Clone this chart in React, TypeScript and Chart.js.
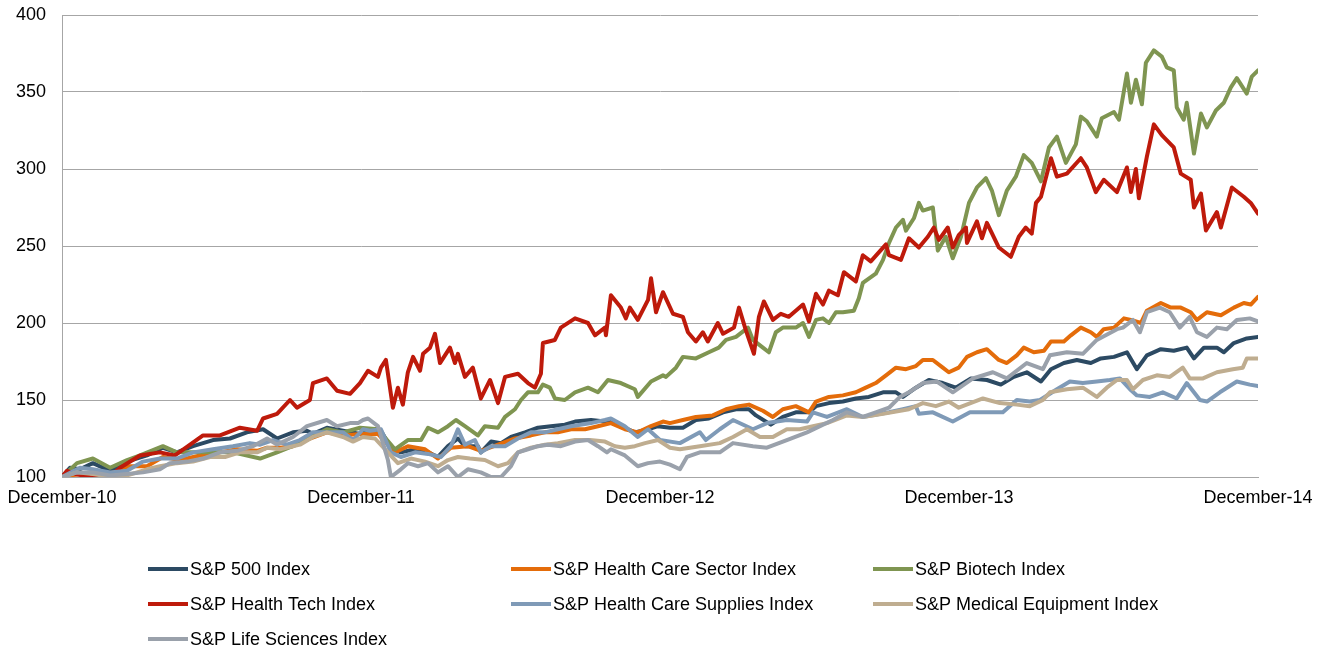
import React, { useEffect, useRef } from "react";
import { Chart, registerables } from "chart.js";

Chart.register(...registerables);

// x = months since December 2010, y = index value (Dec-10 = 100)
const tickLabels = ["December-10", "December-11", "December-12", "December-13", "December-14"];

const seriesNames = [
  "S&P 500 Index",
  "S&P Health Care Sector Index",
  "S&P Biotech Index",
  "S&P Health Tech Index",
  "S&P Health Care Supplies Index",
  "S&P Medical Equipment Index",
  "S&P Life Sciences Index",
];

const seriesColors = ["#2c4a63", "#e46c0a", "#7f9551", "#be1a0b", "#7f9ab7", "#bfad90", "#9aa1ab"];

const sp500: [number, number][] = [
  [0,100],[0.32,106],[0.72,105],[1.24,109],[1.93,104],[2.61,110],[3.41,114],[4.05,119],[4.61,116],[5.26,120],[6.06,124],[6.74,125],[7.42,129],[8.07,131],[8.63,125],[9.27,129],[9.83,130],[10.07,128],[10.63,132],[11.28,130],[11.96,128],[12.36,131],[12.8,130],[13.2,119],[13.6,116],[14.17,118],[14.57,117],[15.09,113],[15.49,120],[15.89,125],[16.17,120],[16.69,120],[16.81,116],[17.22,123],[17.62,122],[18.02,126],[18.58,129],[19.1,132],[19.62,133],[20.18,134],[20.59,136],[21.23,137],[21.79,136],[22.03,137],[22.43,133],[22.99,129],[23.52,131],[23.92,133],[24.4,132],[24.92,132],[25.44,137],[25.96,138],[26.53,142],[27.05,144],[27.57,144],[27.85,140],[28.45,134],[28.93,139],[29.45,142],[29.98,142],[30.26,146],[30.78,148],[31.34,149],[31.86,151],[32.38,152],[32.95,155],[33.47,155],[33.75,152],[34.27,158],[34.79,163],[35.35,161],[35.87,158],[36.48,164],[37.12,163],[37.68,160],[38.2,165],[38.72,168],[39.29,162],[39.69,170],[40.21,174],[40.73,176],[41.29,174],[41.69,177],[42.22,178],[42.74,181],[43.14,170],[43.54,179],[44.1,183],[44.62,182],[45.14,184],[45.43,177],[45.83,184],[46.35,184],[46.63,181],[47.03,187],[47.55,190],[48,191],
];

const healthCareSector: [number, number][] = [
  [0,100],[1.12,103],[1.93,102],[2.73,107],[3.41,107],[4.05,113],[4.74,111],[5.54,114],[6.34,116],[7.02,118],[7.83,117],[8.23,119],[8.75,119],[9.27,120],[9.95,125],[10.63,129],[11.28,127],[11.96,128],[12.68,128],[13.36,116],[13.88,120],[14.57,118],[15.09,112],[15.61,119],[16.29,120],[16.81,117],[17.5,121],[18.18,125],[18.82,127],[19.38,129],[19.9,129],[20.43,131],[20.99,131],[21.51,133],[22.03,135],[22.59,131],[23.11,129],[23.64,133],[24.12,136],[24.4,135],[24.92,137],[25.44,139],[26.12,140],[26.65,144],[27.17,146],[27.57,147],[28.13,143],[28.53,139],[28.93,144],[29.45,146],[29.98,142],[30.26,149],[30.78,152],[31.34,153],[31.86,155],[32.26,158],[32.66,161],[33.07,166],[33.47,171],[33.87,170],[34.27,172],[34.55,176],[34.95,176],[35.35,171],[35.59,168],[35.99,171],[36.32,178],[36.72,181],[37.12,183],[37.6,176],[37.92,174],[38.32,179],[38.6,184],[39.0,181],[39.41,182],[39.69,188],[40.21,188],[40.49,192],[40.89,197],[41.29,194],[41.53,191],[41.81,196],[42.22,197],[42.62,203],[42.9,202],[43.3,200],[43.54,208],[44.1,213],[44.5,210],[44.9,210],[45.3,207],[45.55,202],[45.95,207],[46.51,205],[47.03,210],[47.43,213],[47.71,212],[48,217],
];

const biotech: [number, number][] = [
  [0,100],[0.6,109],[1.24,112],[1.93,106],[2.61,111],[3.13,114],[4.05,120],[4.61,116],[5.14,116],[5.94,116],[6.86,116],[7.95,112],[8.63,116],[9.55,122],[10.63,131],[11.28,129],[11.96,132],[12.68,131],[13.36,118],[13.88,124],[14.41,124],[14.69,132],[15.09,129],[15.49,133],[15.81,137],[16.17,133],[16.69,127],[16.97,133],[17.5,132],[17.78,139],[18.18,144],[18.42,150],[18.7,155],[19.1,155],[19.3,160],[19.58,158],[19.78,151],[20.18,150],[20.59,155],[21.11,158],[21.51,155],[21.91,163],[22.43,161],[22.99,157],[23.11,152],[23.64,162],[24.12,166],[24.24,165],[24.64,171],[24.92,178],[25.44,177],[25.96,181],[26.36,184],[26.65,189],[27.05,191],[27.53,197],[27.73,189],[28.13,184],[28.37,181],[28.65,194],[28.93,197],[29.45,197],[29.74,200],[29.98,191],[30.26,202],[30.54,203],[30.78,200],[31.06,207],[31.34,207],[31.78,208],[31.98,216],[32.14,226],[32.66,232],[32.95,241],[33.19,252],[33.47,262],[33.75,267],[33.87,260],[34.19,268],[34.39,278],[34.55,273],[34.95,275],[35.15,247],[35.47,256],[35.75,242],[36.08,256],[36.4,278],[36.72,288],[37.08,294],[37.32,286],[37.6,270],[37.92,286],[38.28,295],[38.6,309],[38.92,304],[39.29,292],[39.61,314],[39.93,321],[40.29,304],[40.69,316],[40.89,334],[41.13,331],[41.53,321],[41.73,333],[42.22,337],[42.42,332],[42.74,362],[42.9,343],[43.1,358],[43.34,342],[43.5,369],[43.82,377],[44.14,373],[44.34,366],[44.62,364],[44.74,340],[45.02,332],[45.14,343],[45.43,310],[45.71,336],[45.95,327],[46.31,338],[46.63,343],[46.91,353],[47.15,359],[47.55,349],[47.75,360],[48,364],
];

const healthTech: [number, number][] = [
  [0,100],[0.2,104],[0.52,102],[1.12,100],[1.85,99],[2.33,106],[3.13,114],[3.93,116],[4.53,114],[5.14,121],[5.66,127],[6.34,127],[7.14,132],[7.83,130],[8.07,138],[8.63,141],[9.15,150],[9.43,145],[9.95,150],[10.07,161],[10.63,164],[11.04,156],[11.56,154],[11.96,161],[12.28,169],[12.68,165],[12.8,171],[13.0,176],[13.28,145],[13.48,158],[13.68,147],[13.88,168],[14.09,178],[14.37,169],[14.49,180],[14.77,184],[14.97,193],[15.17,174],[15.57,184],[15.77,174],[15.89,180],[16.17,165],[16.49,171],[16.81,151],[17.18,163],[17.5,148],[17.78,165],[18.3,167],[18.7,161],[18.98,158],[19.22,167],[19.3,187],[19.78,189],[20.02,197],[20.59,203],[21.11,200],[21.39,192],[21.79,197],[21.83,192],[22.03,218],[22.43,210],[22.63,203],[22.79,210],[23.11,202],[23.52,215],[23.64,229],[23.84,207],[24.12,220],[24.52,206],[24.92,204],[25.12,194],[25.44,188],[25.72,194],[25.92,188],[26.32,200],[26.53,193],[26.97,197],[27.17,210],[27.45,195],[27.77,180],[27.97,204],[28.17,214],[28.53,202],[28.85,206],[29.17,204],[29.74,212],[29.98,201],[30.26,219],[30.54,212],[30.78,221],[31.14,218],[31.38,233],[31.86,227],[32.14,244],[32.46,240],[33.07,251],[33.19,244],[33.67,241],[33.99,255],[34.39,249],[34.75,256],[34.99,262],[35.19,254],[35.55,262],[35.75,249],[35.99,257],[36.28,262],[36.32,252],[36.72,266],[36.92,255],[37.12,265],[37.6,249],[38.08,243],[38.4,256],[38.68,262],[38.92,258],[39.09,278],[39.29,282],[39.69,307],[39.93,295],[40.33,297],[40.89,307],[41.13,301],[41.49,285],[41.81,293],[42.34,285],[42.74,301],[42.9,285],[43.1,300],[43.22,281],[43.54,308],[43.82,329],[44.14,322],[44.62,314],[44.9,297],[45.3,293],[45.43,275],[45.71,284],[45.91,260],[46.35,272],[46.51,262],[46.95,288],[47.43,282],[47.71,278],[48,271],
];

const healthCareSupplies: [number, number][] = [
  [0,100],[0.72,106],[1.24,105],[1.93,103],[2.61,104],[3.25,110],[3.93,112],[4.61,112],[5.26,116],[6.06,118],[6.86,120],[7.54,122],[7.95,121],[8.47,124],[9.03,121],[9.55,124],[10.07,129],[10.63,129],[11.28,129],[11.68,124],[12.08,131],[12.36,130],[12.8,131],[13.2,116],[13.6,113],[14.17,116],[14.69,115],[15.21,113],[15.61,120],[15.89,131],[16.17,121],[16.57,124],[16.81,116],[17.22,120],[17.78,120],[18.3,125],[18.82,129],[19.38,129],[19.9,131],[20.43,133],[21.23,135],[21.79,137],[22.03,138],[22.59,133],[23.11,126],[23.52,131],[24.0,124],[24.8,122],[25.6,129],[25.84,124],[26.4,131],[26.93,137],[27.73,131],[28.29,135],[29.09,137],[29.9,136],[30.14,142],[30.7,139],[31.5,144],[32.14,139],[33.19,142],[33.75,144],[34.27,146],[34.39,141],[34.95,142],[35.75,136],[36.44,142],[37.24,142],[37.76,142],[38.32,150],[38.84,149],[39.25,150],[39.93,157],[40.45,162],[40.97,161],[41.53,162],[42.05,163],[42.46,164],[42.86,157],[43.14,153],[43.66,152],[44.18,155],[44.74,151],[45.14,161],[45.67,150],[45.95,149],[46.47,155],[47.15,162],[47.67,160],[48,159],
];

const medicalEquipment: [number, number][] = [
  [0,100],[0.6,103],[1.24,102],[1.93,100],[2.61,101],[3.41,105],[3.93,107],[4.61,109],[5.26,110],[5.94,113],[6.54,113],[7.14,116],[7.83,116],[8.23,119],[8.75,118],[9.55,121],[10.07,126],[10.63,129],[11.28,126],[11.68,123],[12.08,126],[12.56,125],[13.08,116],[13.48,109],[14.0,112],[14.57,110],[15.09,107],[15.49,111],[15.89,113],[16.37,112],[16.97,111],[17.5,107],[17.9,109],[18.3,116],[18.82,119],[19.38,121],[19.9,122],[20.59,124],[21.19,124],[21.79,123],[22.19,120],[22.59,119],[22.99,120],[23.4,122],[23.92,124],[24.4,119],[24.8,118],[25.6,120],[26.4,122],[26.93,126],[27.49,131],[28.01,126],[28.53,126],[29.09,131],[29.61,131],[30.14,133],[30.7,135],[31.5,140],[32.14,139],[32.95,141],[33.99,144],[34.55,148],[35.07,146],[35.59,149],[35.99,145],[36.96,151],[37.64,148],[38.32,147],[38.84,146],[39.37,150],[39.65,155],[40.33,157],[40.97,158],[41.53,152],[41.93,158],[42.34,163],[42.74,163],[42.98,157],[43.38,163],[43.94,166],[44.46,165],[44.98,171],[45.26,164],[45.79,164],[46.35,168],[46.99,170],[47.39,171],[47.55,177],[48,177],
];

const lifeSciences: [number, number][] = [
  [0,100],[0.6,103],[1.24,103],[1.93,101],[2.61,102],[3.25,103],[3.93,105],[4.33,109],[5.02,110],[5.66,112],[6.34,116],[7.02,117],[7.66,120],[8.23,125],[8.63,121],[9.27,126],[9.83,133],[10.63,137],[11.04,133],[11.56,135],[11.88,135],[12.08,137],[12.28,138],[12.68,133],[13.08,111],[13.2,100],[13.6,105],[13.88,109],[14.29,107],[14.69,109],[15.09,103],[15.49,107],[15.89,100],[16.29,105],[16.81,103],[17.22,100],[17.62,100],[18.02,107],[18.3,116],[18.7,118],[19.1,120],[19.5,121],[20.02,120],[20.59,123],[21.11,124],[21.51,120],[21.87,116],[22.03,118],[22.59,114],[23.11,107],[23.52,109],[24.0,110],[24.4,108],[24.8,105],[25.08,113],[25.6,116],[26.4,116],[26.93,122],[27.73,120],[28.29,119],[29.09,124],[29.9,129],[30.42,133],[30.94,137],[31.5,142],[32.14,139],[32.66,142],[33.19,145],[33.63,152],[33.99,155],[34.55,161],[35.11,162],[35.75,155],[36.56,164],[37.36,168],[37.92,164],[38.72,174],[39.37,170],[39.65,179],[40.33,181],[40.97,180],[41.53,189],[42.34,196],[42.58,197],[42.98,202],[43.26,194],[43.54,207],[44.06,210],[44.46,207],[44.86,197],[45.26,204],[45.55,194],[45.95,191],[46.35,197],[46.75,196],[47.15,202],[47.67,203],[48,201],
];

const seriesData = [sp500, healthCareSector, biotech, healthTech, healthCareSupplies, medicalEquipment, lifeSciences];

const FONT = '"Liberation Sans", Arial, sans-serif';

const legendPlugin = {
  id: "gridLegend",
  afterDraw(chart: any) {
    const ctx = chart.ctx;
    const colX = [148, 511, 873];
    const rowY = [569, 604, 639];
    ctx.save();
    chart.data.datasets.forEach((ds: any, i: number) => {
      const x0 = colX[i % 3];
      const y = rowY[Math.floor(i / 3)];
      ctx.strokeStyle = ds.borderColor;
      ctx.lineWidth = 4;
      ctx.lineCap = "butt";
      ctx.beginPath();
      ctx.moveTo(x0, y);
      ctx.lineTo(x0 + 40, y);
      ctx.stroke();
      ctx.fillStyle = "#000";
      ctx.font = `18px ${FONT}`;
      ctx.textBaseline = "middle";
      ctx.textAlign = "left";
      ctx.fillText(ds.label, x0 + 42, y + 1);
    });
    ctx.restore();
  },
};

export default function App() {
  const canvasRef = useRef<HTMLCanvasElement | null>(null);

  useEffect(() => {
    if (!canvasRef.current) return;
    const n = seriesNames.length;
    const chart = new Chart(canvasRef.current, {
      type: "line",
      data: {
        datasets: seriesNames.map((name, i) => ({
          label: name,
          data: seriesData[i].map(([x, y]) => ({ x, y })),
          borderColor: seriesColors[i],
          backgroundColor: seriesColors[i],
          borderWidth: 4,
          pointRadius: 0,
          tension: 0,
          borderJoinStyle: "round" as const,
          borderCapStyle: "round" as const,
          order: n - i,
        })),
      },
      options: {
        animation: false,
        responsive: true,
        maintainAspectRatio: false,
        layout: { padding: { top: 15, right: 65, left: 0, bottom: 0 } },
        plugins: {
          legend: { display: false },
          tooltip: { enabled: false },
        },
        scales: {
          x: {
            type: "linear",
            min: 0,
            max: 48,
            afterFit: (s: any) => {
              s.height = 172;
              s.paddingLeft = 0;
              s.paddingRight = 0;
            },
            ticks: {
              stepSize: 12,
              autoSkip: false,
              maxRotation: 0,
              padding: 10,
              color: "#000",
              font: { family: FONT, size: 18 },
              callback: (v: any) => {
                const idx = Math.round(Number(v) / 12);
                return tickLabels[idx] ?? "";
              },
            },
            grid: { display: false, drawTicks: false },
            border: { display: true, color: "#a6a6a6", width: 1 },
          },
          y: {
            min: 100,
            max: 400,
            afterFit: (s: any) => {
              s.width = 62;
              s.paddingTop = 0;
              s.paddingBottom = 0;
            },
            ticks: {
              stepSize: 50,
              padding: 16,
              color: "#000",
              font: { family: FONT, size: 18 },
            },
            grid: { color: "#a6a6a6", lineWidth: 1, drawTicks: false },
            border: { display: true, color: "#a6a6a6", width: 1 },
          },
        },
      },
      plugins: [legendPlugin],
    });
    return () => chart.destroy();
  }, []);

  return (
    <div style={{ position: "absolute", left: 0, top: 0, width: 1323, height: 649, background: "#fff" }}>
      <canvas ref={canvasRef} />
    </div>
  );
}
